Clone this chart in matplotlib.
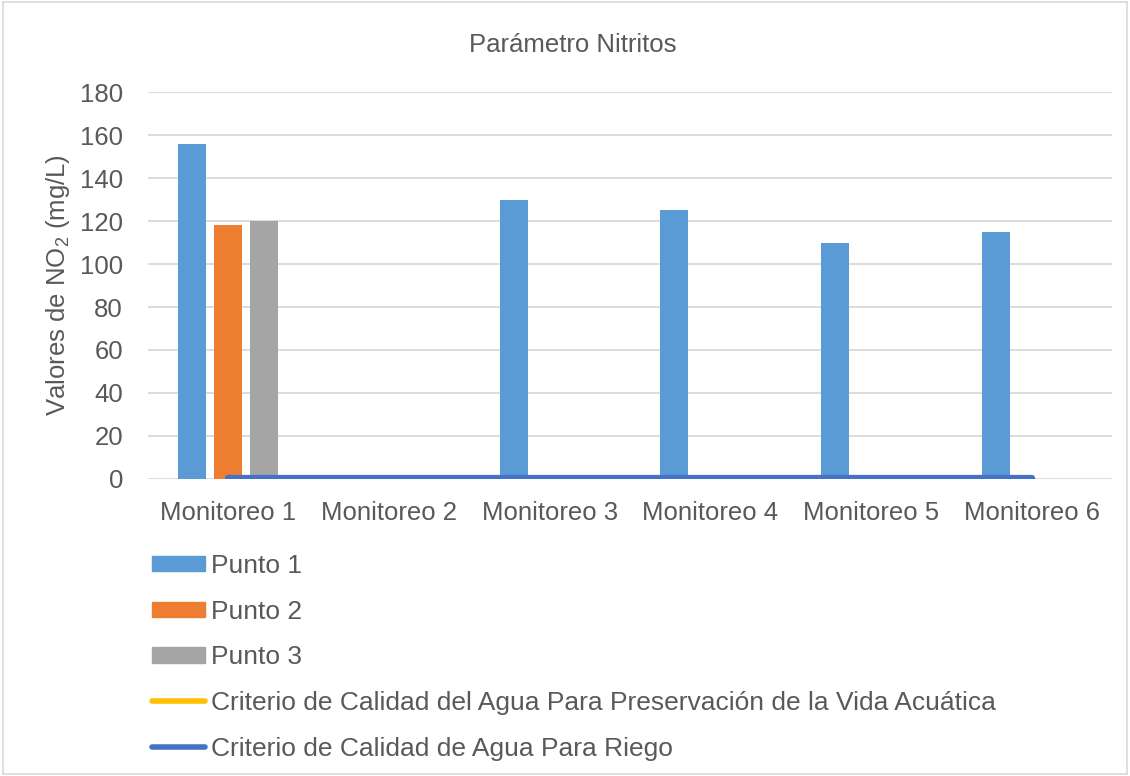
import numpy as np
import matplotlib.pyplot as plt
from matplotlib.patches import Rectangle, Patch
from matplotlib.lines import Line2D

plt.rcParams['font.family'] = ['Liberation Sans', 'DejaVu Sans']
plt.rcParams['mathtext.default'] = 'regular'

categories = ["Monitoreo 1", "Monitoreo 2", "Monitoreo 3", "Monitoreo 4", "Monitoreo 5", "Monitoreo 6"]
punto1 = [156, 0, 130, 125, 110, 115]
punto2 = [118, 0, 0, 0, 0, 0]
punto3 = [120, 0, 0, 0, 0, 0]
vida_acuatica = [0.06, 0.06, 0.06, 0.06, 0.06, 0.06]
riego = [0.5, 0.5, 0.5, 0.5, 0.5, 0.5]

txt = "#595959"
grid_c = "#d9d9d9"
c1, c2, c3 = "#5b9bd5", "#ed7d31", "#a5a5a5"
c_yel, c_blue = "#ffc000", "#4472c4"
fs = 18.5

fig = plt.figure(figsize=(11.3, 7.76), dpi=100)
ax = fig.add_axes([0.131, 0.383, 0.853, 0.498])

x = np.arange(len(categories))
slot = 0.224
bw = 0.174
ax.bar(x - slot, punto1, bw, color=c1, zorder=2)
ax.bar(x, punto2, bw, color=c2, zorder=2)
ax.bar(x + slot, punto3, bw, color=c3, zorder=2)
ax.plot(x, vida_acuatica, color=c_yel, lw=4.5, solid_capstyle='round', zorder=3)
ax.plot(x, riego, color=c_blue, lw=4.5, solid_capstyle='round', zorder=4)

ax.set_xlim(-0.5, len(categories) - 0.5)
ax.set_ylim(0, 180)
ax.set_yticks(range(0, 181, 20))
ax.set_xticks(x)
ax.set_xticklabels(categories)
ax.yaxis.grid(True, color=grid_c, lw=1.3, zorder=0)
ax.set_axisbelow(True)
for s in ax.spines.values():
    s.set_visible(False)
ax.tick_params(length=0, labelsize=fs, labelcolor=txt)
ax.tick_params(axis='x', pad=16)
ax.tick_params(axis='y', pad=18)
ax.set_ylabel("Valores de NO$_2$ (mg/L)", fontsize=fs, color=txt, labelpad=6)
fig.text(0.507, 0.942, "Parámetro Nitritos", fontsize=fs, color=txt, ha='center', va='center')

handles = [
    Patch(color=c1, label="Punto 1"),
    Patch(color=c2, label="Punto 2"),
    Patch(color=c3, label="Punto 3"),
    Line2D([], [], color=c_yel, lw=4, solid_capstyle='round',
           label="Criterio de Calidad del Agua Para Preservación de la Vida Acuática"),
    Line2D([], [], color=c_blue, lw=4, solid_capstyle='round',
           label="Criterio de Calidad de Agua Para Riego"),
]
leg = fig.legend(handles=handles, loc='upper left', bbox_to_anchor=(0.1345, 0.286),
                 frameon=False, fontsize=19, labelspacing=0.82, handlelength=2.0,
                 handleheight=0.52, handletextpad=0.22, borderaxespad=0, borderpad=0)
for t in leg.get_texts():
    t.set_color(txt)

fig.patches.append(Rectangle((0.003, 0.003), 0.994, 0.994, transform=fig.transFigure,
                             fill=False, edgecolor=grid_c, lw=1.2))

fig.savefig("out.png", dpi=100)
